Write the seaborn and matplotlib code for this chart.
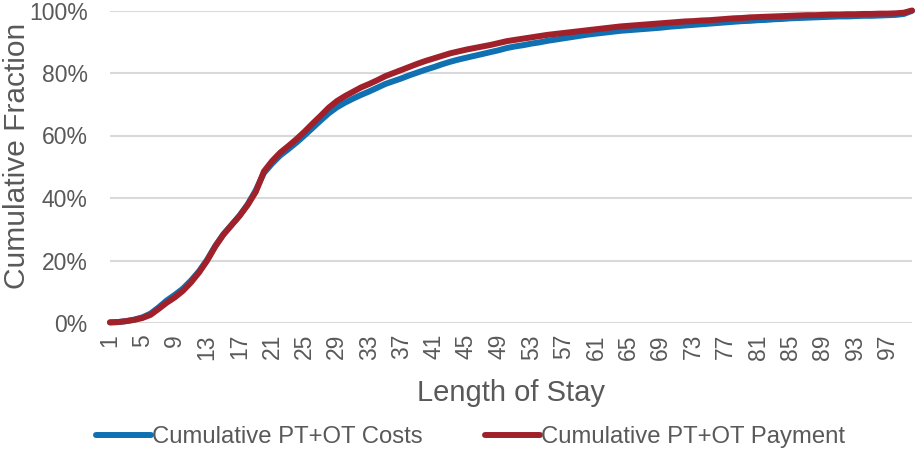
import matplotlib
matplotlib.use("Agg")
import matplotlib.pyplot as plt
import seaborn as sns
import pandas as pd
from matplotlib.lines import Line2D

# Length of stay (days)
days = list(range(1, 101))

# Cumulative fraction of PT+OT costs by length of stay (%)
costs_pct = [
    0.2, 0.3, 0.6, 1.1, 1.8, 3.0, 5.0, 7.2, 9.0, 11.0,
    13.6, 16.6, 20.3, 24.7, 28.4, 31.4, 34.4, 38.0, 42.5, 48.0,
    51.0, 53.6, 55.6, 57.7, 60.0, 62.4, 64.8, 67.1, 69.0, 70.5,
    71.8, 73.0, 74.1, 75.3, 76.5, 77.4, 78.3, 79.3, 80.2, 81.1,
    81.9, 82.8, 83.6, 84.3, 84.9, 85.5, 86.1, 86.7, 87.3, 88.0,
    88.5, 88.9, 89.4, 89.8, 90.3, 90.7, 91.1, 91.5, 91.9, 92.3,
    92.6, 92.9, 93.2, 93.5, 93.7, 93.9, 94.1, 94.3, 94.5, 94.8,
    95.0, 95.2, 95.4, 95.6, 95.8, 96.0, 96.2, 96.4, 96.6, 96.7,
    96.9, 97.0, 97.2, 97.3, 97.5, 97.6, 97.7, 97.8, 97.9, 98.0,
    98.1, 98.1, 98.2, 98.3, 98.3, 98.4, 98.5, 98.6, 98.9, 99.9,
]

# Cumulative fraction of PT+OT payment by length of stay (%)
payment_pct = [
    0.2, 0.3, 0.6, 1.0, 1.6, 2.6, 4.5, 6.5, 8.2, 10.3,
    13.0, 16.2, 20.0, 24.5, 28.3, 31.3, 34.3, 37.8, 42.0, 48.5,
    51.8, 54.5, 56.6, 58.8, 61.2, 63.8, 66.3, 68.9, 71.0, 72.6,
    74.0, 75.4, 76.5, 77.7, 79.0, 80.0, 81.0, 82.0, 83.0, 83.9,
    84.7, 85.5, 86.3, 86.9, 87.5, 88.0, 88.5, 89.0, 89.6, 90.2,
    90.6, 91.0, 91.4, 91.8, 92.2, 92.5, 92.8, 93.1, 93.4, 93.7,
    94.0, 94.3, 94.6, 94.9, 95.1, 95.3, 95.5, 95.7, 95.9, 96.1,
    96.3, 96.5, 96.6, 96.8, 96.9, 97.1, 97.3, 97.5, 97.6, 97.8,
    97.9, 98.0, 98.1, 98.2, 98.3, 98.4, 98.5, 98.5, 98.6, 98.7,
    98.7, 98.8, 98.8, 98.9, 98.9, 99.0, 99.0, 99.1, 99.3, 100.0,
]

series_names = ["Cumulative PT+OT Costs", "Cumulative PT+OT Payment"]
series_colors = ["#0F70B2", "#A1212B"]
tick_days = list(range(1, 98, 4))
y_ticks = [0, 20, 40, 60, 80, 100]

sns.set_theme(style="white")
plt.rcParams["font.family"] = ["Liberation Sans", "DejaVu Sans"]
text_color = "#595959"

df = pd.concat([
    pd.DataFrame({"day": days, "value": costs_pct, "series": series_names[0]}),
    pd.DataFrame({"day": days, "value": payment_pct, "series": series_names[1]}),
])

fig = plt.figure(figsize=(9.17, 4.51), dpi=100)
ax = fig.add_axes([110 / 917, 1 - 323 / 451, 802 / 917, (323 - 10.5) / 451])

sns.lineplot(data=df, x="day", y="value", hue="series",
             palette=dict(zip(series_names, series_colors)),
             linewidth=4.3, legend=False, ax=ax, clip_on=False,
             solid_capstyle="round")

ax.set_xlim(1, 100)
ax.set_ylim(0, 100)
ax.set_xticks(tick_days)
ax.set_xticklabels([str(d) for d in tick_days], rotation=90)
ax.set_yticks(y_ticks)
ax.set_yticklabels([f"{v}%" for v in y_ticks])
ax.tick_params(axis="both", length=0, labelsize=16.5, colors=text_color)
ax.tick_params(axis="x", pad=8)
ax.tick_params(axis="y", pad=16)
ax.yaxis.grid(True, color="#D9D9D9", linewidth=1.5)
ax.set_axisbelow(True)
for s in ax.spines.values():
    s.set_visible(False)

ax.set_xlabel("Length of Stay", fontsize=21, color=text_color, labelpad=14)
ax.set_ylabel("Cumulative Fraction", fontsize=21.5, color=text_color)
ax.yaxis.set_label_coords(-0.098, 0.535)

handles = [Line2D([], [], color=c, linewidth=4.3, solid_capstyle="round")
           for c in series_colors]
fig.legend(handles, series_names, loc="center", ncol=2,
           bbox_to_anchor=(0.513, 1 - 437 / 451), frameon=False,
           fontsize=17.2, labelcolor=text_color, handlelength=2.3,
           handletextpad=0.05, columnspacing=2.6, borderaxespad=0)

fig.savefig("out.png", dpi=100)
